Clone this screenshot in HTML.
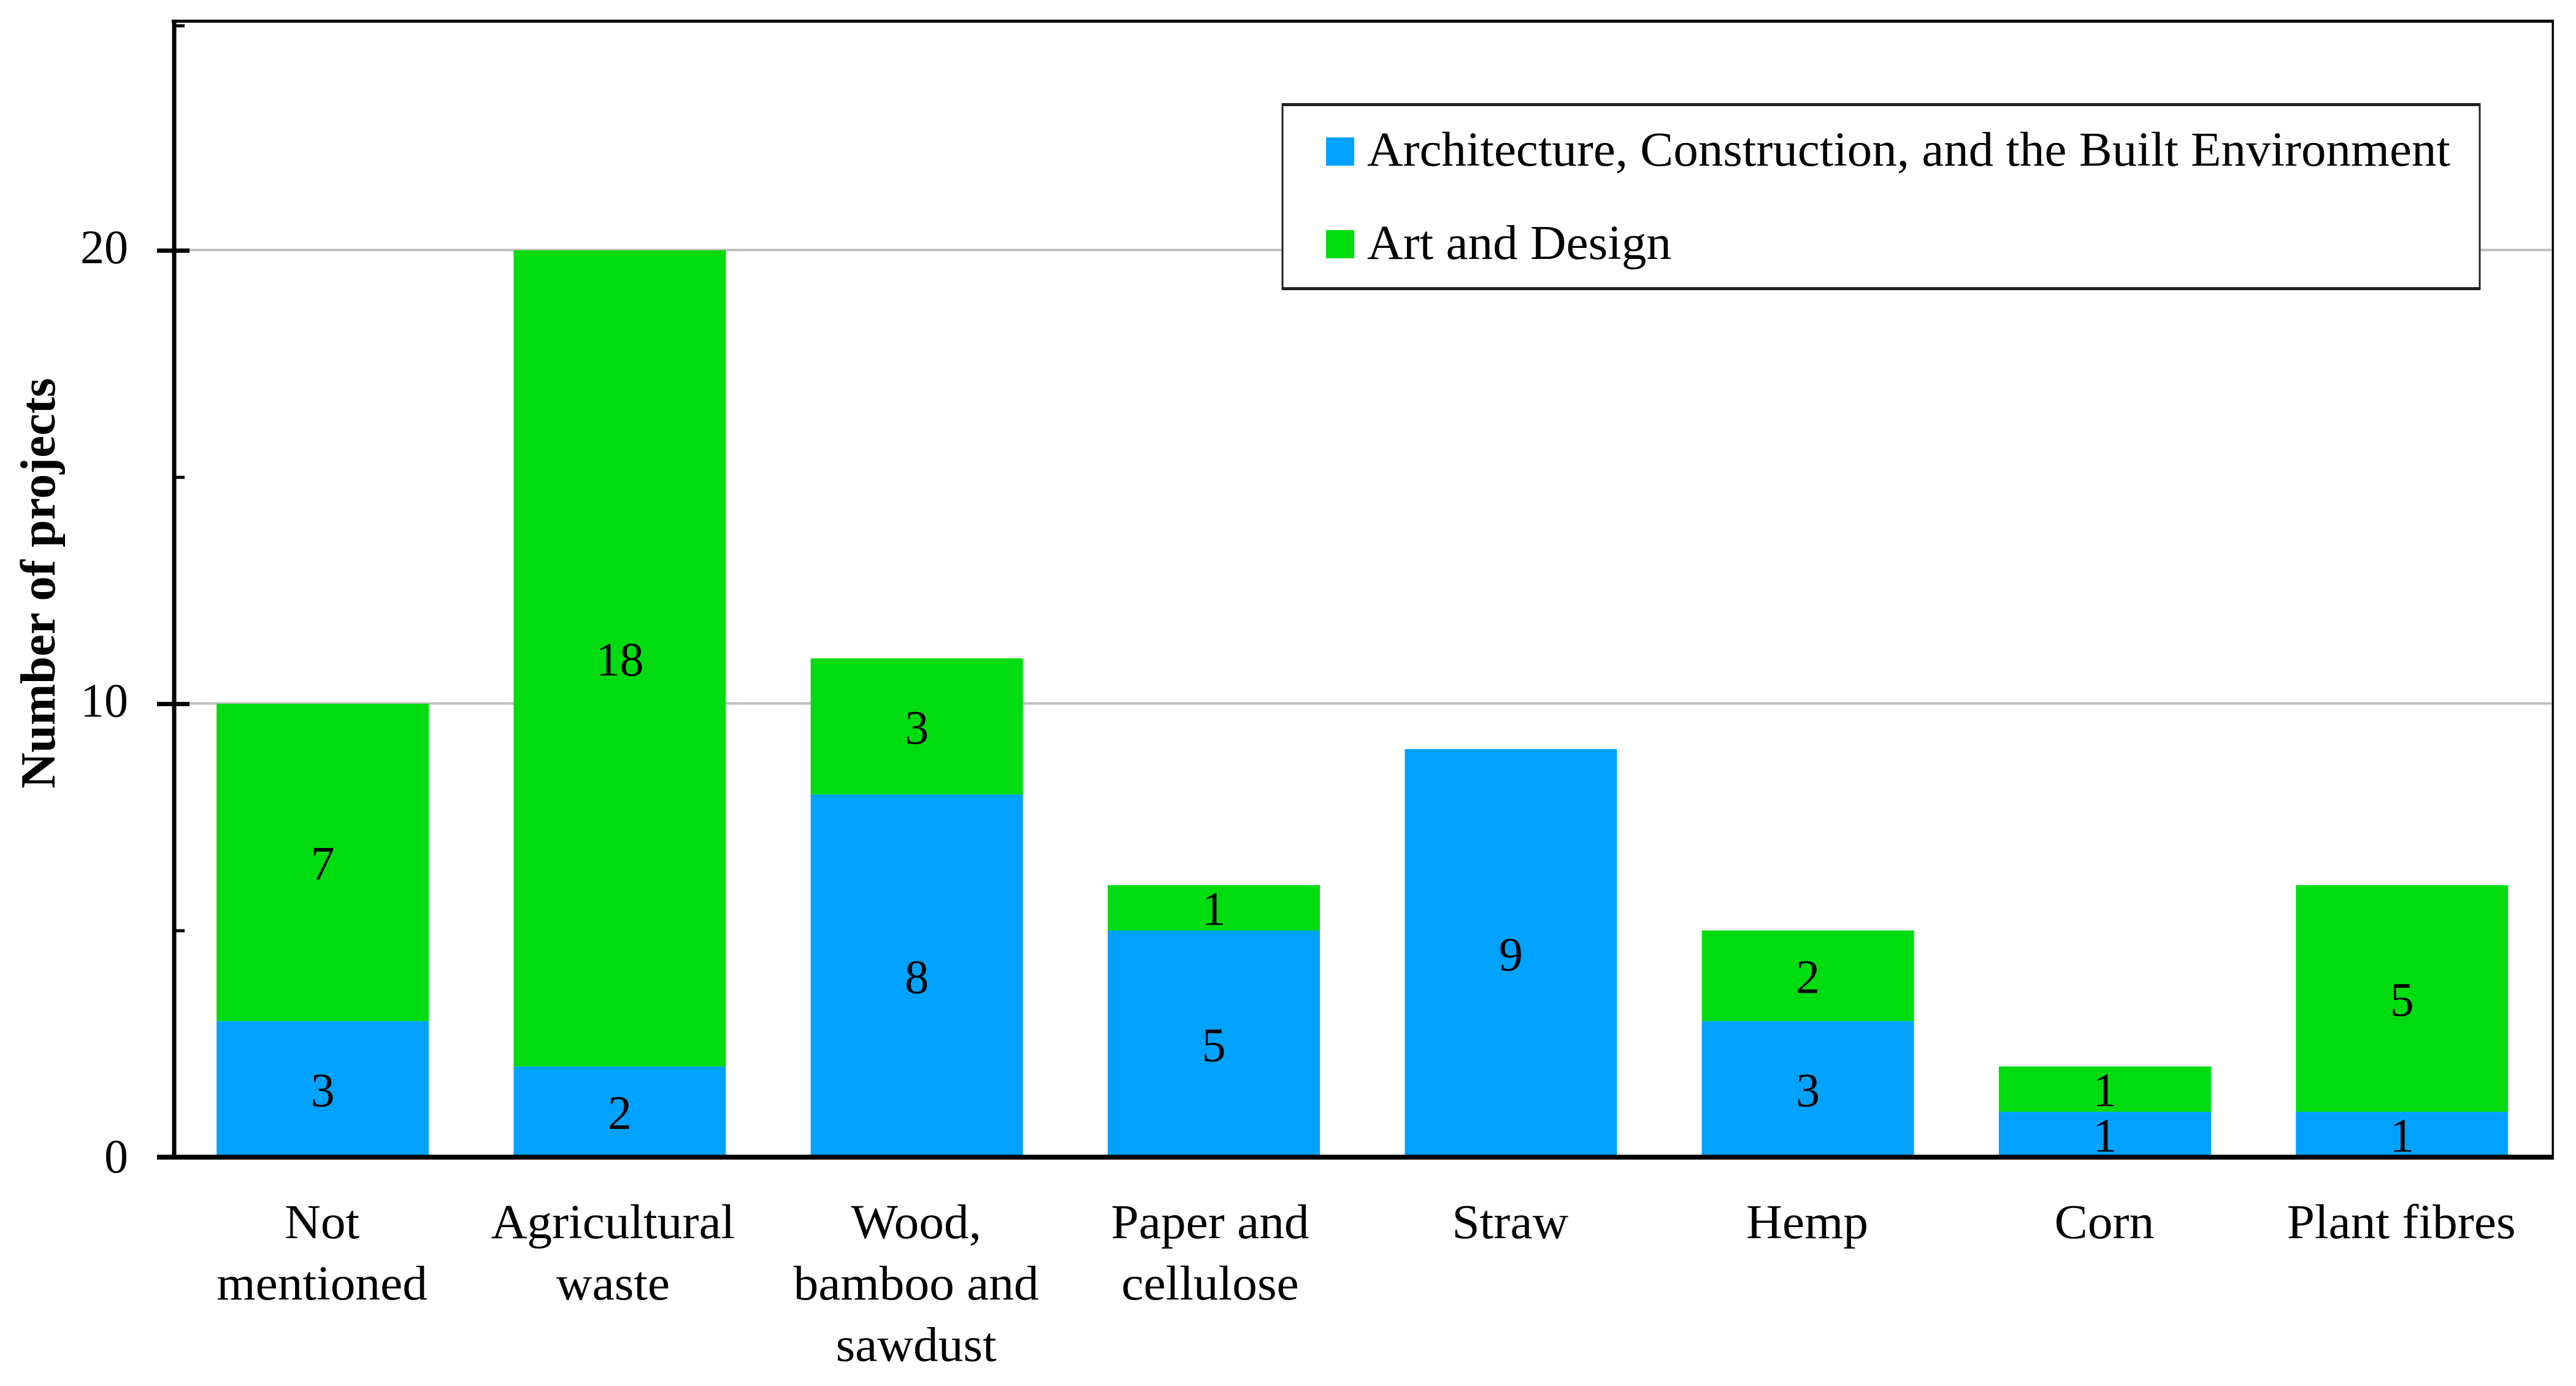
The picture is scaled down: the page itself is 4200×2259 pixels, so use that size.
<!DOCTYPE html>
<html lang="en">
<head>
<meta charset="utf-8">
<title>Number of projects by bio-based material</title>
<style>
html,body{margin:0;padding:0;background:#fff;width:4200px;height:2259px;overflow:hidden}
svg{display:block}
text{font-family:"Liberation Serif","DejaVu Serif",serif;fill:#000}
</style>
</head>
<body>
<svg id="chart" xmlns="http://www.w3.org/2000/svg" width="4200" height="2259" viewBox="0 0 4200 2259">
  <rect x="0" y="0" width="4200" height="2259" fill="#fff"/>
  <g id="grid"></g>
  <g id="bars"></g>
  <g id="axes"></g>
  <g id="values"></g>
  <g id="yticks"></g>
  <g id="xticks"></g>
  <text transform="translate(89,1285) rotate(-90)" font-size="80" font-weight="700" textLength="669" lengthAdjust="spacingAndGlyphs">Number of projects</text>
  <g>
    <rect x="2091" y="170" width="1952" height="301" fill="#fff" stroke="#222" stroke-width="3"/>
    <rect x="2090" y="168" width="1954" height="5" fill="#222"/>
    <rect x="2090" y="468" width="1954" height="5" fill="#222"/>
    <rect x="2162" y="224" width="46" height="46" fill="#00a2ff"/>
    <text x="2229" y="270" font-size="79" textLength="1766" lengthAdjust="spacingAndGlyphs">Architecture, Construction, and the Built Environment</text>
    <rect x="2162" y="375" width="46" height="46" fill="#00dc10"/>
    <text x="2229" y="422" font-size="79" textLength="496" lengthAdjust="spacingAndGlyphs">Art and Design</text>
  </g>
</svg>
<script>
const categories = [["Not","mentioned"],["Agricultural","waste"],["Wood,","bamboo and","sawdust"],["Paper and","cellulose"],["Straw"],["Hemp"],["Corn"],["Plant fibres"]];
const architecture = [3,2,8,5,9,3,1,1];
const artDesign = [7,18,3,1,0,2,1,5];
const yTickLabels = [0,10,20];
const yMinorTicks = [5,15,25];

const NS = 'http://www.w3.org/2000/svg';
const plot = {x0:284, band:484.3, barW:346, yBase:1886, unit:73.9};
const widen = 1.03;
const xc = i => plot.x0 + plot.band * (i + 0.5);
const y = v => plot.yBase - v * plot.unit;
const labelNudge = i => i === 1 ? -11 : (i === 3 ? -6 : -1);

function add(parent, tag, attrs, txt) {
  const el = document.createElementNS(NS, tag);
  for (const k in attrs) el.setAttribute(k, attrs[k]);
  if (txt !== undefined) el.textContent = txt;
  document.getElementById(parent).appendChild(el);
  return el;
}

// gridlines
yTickLabels.filter(v => v > 0).forEach(v => {
  const el = add('grid', 'rect', {x:300, y:y(v)-2.5, width:3860, height:4, fill:'#bdbdbd'});
  
  
});

// bars and value labels
function segment(i, from, val, color, series) {
  if (!val) return;
  const r = add('bars', 'rect', {x:xc(i)-plot.barW/2, y:y(from+val), width:plot.barW, height:val*plot.unit, fill:color});
  
  
  const t = add('values', 'text', {x:xc(i), y:y(from+val/2)+28, 'font-size':78, 'text-anchor':'middle'}, String(val));
  
  
}
categories.forEach((c, i) => {
  segment(i, 0, architecture[i], '#00a2ff', 'architecture');
  segment(i, architecture[i], artDesign[i], '#00dc10', 'art-design');
});

// axes frame
const frame = [
  ['axis-top-border', 280, 32, 3884, 5],
  ['axis-right-border', 4160.5, 33, 3.5, 1855],
  ['axis-left-line', 280.5, 33, 7, 1857],
  ['axis-bottom-line', 256, 1882, 3908, 8]
];
frame.forEach(f => {
  const el = add('axes', 'rect', {x:f[1], y:f[2], width:f[3], height:f[4], fill:'#000'});
  
  
});

// y ticks
yTickLabels.forEach(v => {
  if (v > 0) {
    const tk = add('axes', 'rect', {x:256, y:y(v)-3, width:53, height:7, fill:'#000'});
    
    
  }
  const t = add('yticks', 'text', {x:209, y:y(v)+(v === 0 ? 25 : 21), 'font-size':78, 'text-anchor':'end'}, String(v));
  
  
});
yMinorTicks.forEach(v => {
  const tk = add('axes', 'rect', {x:284, y:y(v)-2 + (v === 25 ? 3 : 0), width:17, height:5, fill:'#000'});
  
  
});

// category labels
categories.forEach((lines, i) => {
  lines.forEach((line, j) => {
    const t = add('xticks', 'text', {x:xc(i)+labelNudge(i), y:2018+j*100, 'font-size':79, 'text-anchor':'middle', lengthAdjust:'spacingAndGlyphs'}, line);
    
    
    t.setAttribute('textLength', (t.getComputedTextLength() * widen).toFixed(1));
  });
});
</script>
</body>
</html>
